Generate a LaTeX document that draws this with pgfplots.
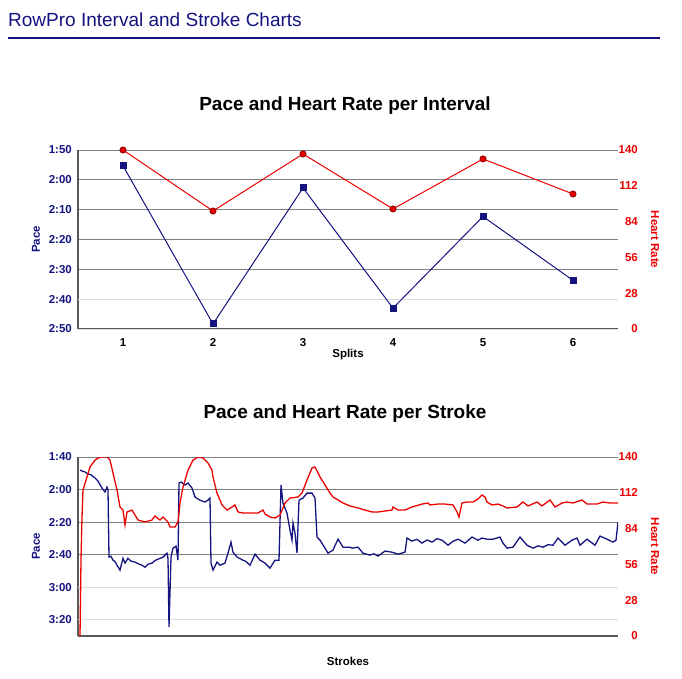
\documentclass[border=0pt]{standalone}
\usepackage{fontspec}
\setmainfont{Liberation Sans}
\usepackage{pgfplots}
\pgfplotsset{compat=1.18}

\definecolor{navy}{RGB}{20,20,128}
\definecolor{hrred}{RGB}{235,0,0}
\definecolor{gridd}{RGB}{128,128,128}
\definecolor{gridl}{RGB}{221,221,221}

\pgfplotsset{
  rp base/.style={
    scale only axis, width=540pt, height=179pt,
    tick style={draw=none},
    /pgf/number format/assume math mode=true,
    ticklabel style={font=\fontsize{11.5}{12}\selectfont\bfseries},
  },
  rp left/.style={
    rp base,
    axis x line*=bottom, axis y line*=left,
    axis line style={draw=black!65, line width=2pt},
    ymajorgrids, major grid style={gridd, line width=1pt},
    extra y tick style={grid=major, major grid style={gridl, line width=1pt}},
    yticklabel style={anchor=east, inner sep=0pt, xshift=-6pt, text=navy},
    every axis y label/.style={at={(axis description cs:-0.078,0.5)}, rotate=90,
      anchor=center, text=navy, font=\fontsize{11.5}{12}\selectfont\bfseries},
    every axis x label/.style={at={(axis description cs:0.5,-0.14)},
      anchor=center, font=\fontsize{11.5}{12}\selectfont\bfseries},
  },
  rp right/.style={
    rp base,
    hide x axis, axis y line*=right, axis line style={draw=none},
    ymin=0, ymax=140, ytick={0,28,...,140},
    yticklabel style={anchor=east, inner sep=0pt, xshift=20pt, text=hrred},
    every axis y label/.style={at={(axis description cs:1.0685,0.5)}, rotate=-90,
      anchor=center, text=hrred, font=\fontsize{11.5}{12}\selectfont\bfseries},
    ylabel={Heart Rate},
  },
}

\begin{document}
\begin{tikzpicture}
\path[use as bounding box] (0,0) rectangle (682pt,678pt);

% page header
\node[anchor=base west, inner sep=0pt, text=navy, font=\fontsize{19}{22}\selectfont]
  at (8pt,651pt) {RowPro Interval and Stroke Charts};
\draw[navy, line width=2.5pt] (8pt,640pt) -- (660pt,640pt);

% ---- per interval ----
\node[anchor=base, inner sep=0pt, font=\fontsize{19}{22}\selectfont\bfseries]
  at (345pt,567pt) {Pace and Heart Rate per Interval};

\begin{axis}[rp left, at={(78pt,349pt)}, anchor=south west,
  xmin=0.5, xmax=6.5, ymin=110, ymax=170, y dir=reverse,
  xtick={1,...,6},
  xticklabel style={anchor=base, inner sep=0pt, yshift=-17pt},
  ytick={110,120,130,140,150}, yticklabels={1:50,2:00,2:10,2:20,2:30},
  extra y ticks={160,170}, extra y tick labels={2:40,2:50},
  ylabel={Pace}, xlabel={Splits},
]
\addplot[navy, line width=1pt, mark=square*, mark size=3pt, mark options={fill=navy}]
  coordinates {(1,115.3)(2,168.3)(3,122.7)(4,163.0)(5,132.3)(6,153.7)};
\end{axis}

\begin{axis}[rp right, at={(78pt,349pt)}, anchor=south west,
  xmin=0.5, xmax=6.5,
]
\addplot[hrred, line width=1pt, mark=*, mark size=3pt, mark options={fill=hrred, draw=red!60!black}]
  coordinates {(1,140)(2,92.3)(3,136.9)(4,93.9)(5,133.0)(6,105.6)};
\end{axis}

% ---- per stroke ----
\node[anchor=base, inner sep=0pt, font=\fontsize{19}{22}\selectfont\bfseries]
  at (345pt,260pt) {Pace and Heart Rate per Stroke};

\begin{axis}[rp left, at={(78pt,42pt)}, anchor=south west,
  xmin=0, xmax=540, ymin=100, ymax=210, y dir=reverse,
  xtick=\empty,
  ytick={100,120,140,160}, yticklabels={1:40,2:00,2:20,2:40},
  extra y ticks={180,200}, extra y tick labels={3:00,3:20},
  ylabel={Pace}, xlabel={Strokes},
]
\addplot[navy, line width=1.3pt] coordinates {
(2,108.0)(4,108.6)(7,109.2)(10,110.5)(13,110.9)(17,112.9)(20,114.8)(24,119.1)(27,121.5)(29,118.5)(30,120.3)
(31,161.5)(33,161.0)(35,163.4)(37,164.2)(39,166.5)(42,169.5)(45,162.2)(47,165.2)(50,162.2)(53,164.0)
(57,164.6)(60,165.5)(64,166.5)(67,167.7)(70,165.9)(74,165.2)(77,163.6)(80,162.8)(85,161.5)(89,159.1)(90,162.2)
(91,204.6)(93,161.5)(95,156.0)(98,154.8)(100,163.4)
(101,116.0)(103,115.4)(107,117.2)(110,116.0)(114,119.1)(117,124.6)(120,125.8)(122,126.5)(127,127.7)(130,126.5)(132,125.2)
(133,165.2)(135,169.5)(139,164.6)(142,166.5)(147,165.2)(150,159.1)(153,152.3)(155,158.5)(159,161.5)
(165,163.4)(168,164.2)(172,166.5)(177,159.7)(182,163.4)(187,165.2)(192,168.3)(197,163.4)(201,163.4)
(203,117.2)(205,128.3)(209,134.5)(212,144.9)(214,151.1)(215,140.6)(217,146.8)(219,159.1)
(221,126.5)(225,125.2)(229,122.2)(234,122.2)(237,125.2)
(239,149.2)(242,151.1)(247,156.0)(250,159.1)(255,157.2)(260,150.5)(265,155.4)(272,155.4)
(274,156.0)(280,155.4)(285,159.1)(292,160.3)(296,159.5)(300,160.9)(307,157.8)(314,158.5)(320,159.7)(327,158.5)
(329,149.8)(334,151.7)(339,150.6)(344,152.9)(349,151.0)(354,152.3)(359,150.2)(364,151.1)(370,154.2)(375,151.8)
(380,150.5)(387,152.9)(394,149.2)(400,151.1)(404,149.8)(409,150.5)(415,150.5)(422,149.2)(425,152.9)
(429,156.0)(435,155.4)(442,149.2)(449,154.2)(455,156.0)(460,154.6)(465,155.4)(470,153.9)(475,154.2)
(480,149.8)(487,154.2)(494,151.1)(499,149.8)(502,154.2)(509,150.5)(517,154.2)(522,148.6)(529,150.5)
(535,152.3)(538,151.1)(540,140.0)
};
\end{axis}

\begin{axis}[rp right, at={(78pt,42pt)}, anchor=south west,
  xmin=0, xmax=540,
]
\addplot[hrred, line width=1.3pt] coordinates {
(2,0)(3,59.4)(4,93.1)(5,114.2)(9,124.4)(12,132.2)(17,137.6)(22,140.0)(29,140.0)(32,137.6)(35,127.5)
(39,114.2)(42,100.9)(45,98.5)(47,86.8)(49,97.0)(54,98.5)(57,94.6)(60,90.7)(67,89.2)(74,90.7)(77,93.9)
(82,90.7)(85,93.1)(90,89.2)(92,85.2)(97,85.2)(100,89.2)(102,104.0)(105,116.5)(110,129.8)(115,137.6)
(120,140.0)(125,139.2)(130,135.3)(134,129.8)(135,124.4)(139,111.8)(144,102.5)(149,98.5)(154,100.9)
(157,102.5)(160,97.0)(165,96.2)(174,96.2)(180,96.2)(185,98.5)(187,95.4)(192,93.1)(197,92.3)(202,94.6)
(207,104.0)(212,107.9)(220,108.7)(224,111.8)(229,122.0)(234,131.4)(237,132.2)(242,124.4)(247,118.1)
(252,111.8)(255,108.7)(260,106.4)(265,104.0)(272,101.7)(280,100.1)(287,98.5)(294,97.0)(300,97.0)
(314,98.5)(315,100.9)(320,98.5)(327,98.5)(334,100.9)(344,103.2)(350,104.0)(352,102.5)(360,103.2)
(367,103.2)(375,102.5)(379,97.0)(381,93.1)(384,104.0)(389,104.8)(395,104.8)(400,107.1)(404,110.3)
(407,108.7)(409,104.8)(414,102.5)(420,103.2)(425,101.7)(429,100.1)(439,100.9)(445,104.8)(450,101.7)
(459,104.8)(464,101.7)(472,106.4)(477,100.9)(484,104.0)(489,104.8)(495,104.0)(504,106.4)(509,103.2)
(519,103.2)(525,104.8)(532,104.0)(540,104.0)
};
\end{axis}
\end{tikzpicture}
\end{document}
